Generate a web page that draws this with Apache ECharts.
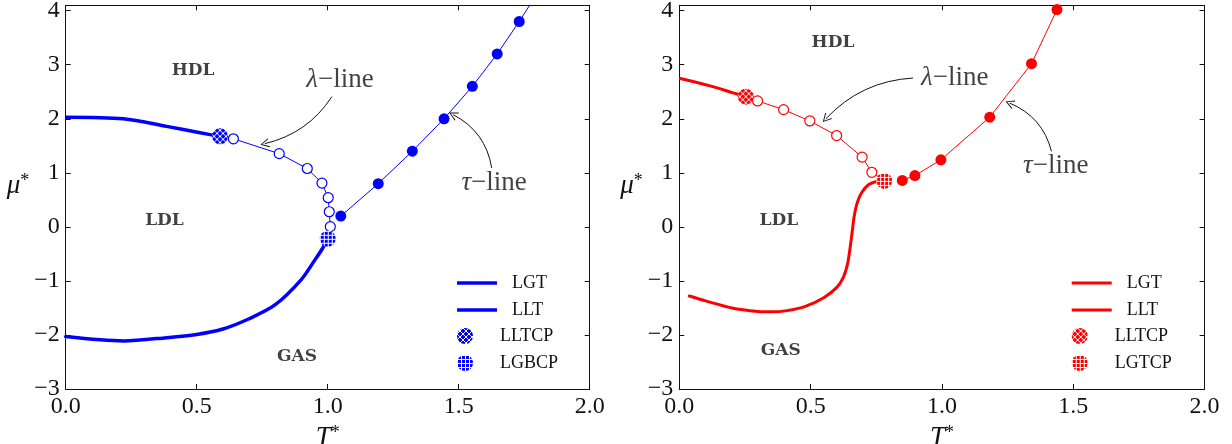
<!DOCTYPE html>
<html><head><meta charset="utf-8">
<script src="https://cdn.jsdelivr.net/npm/echarts@6/dist/echarts.min.js"></script>
<style>html,body{margin:0;padding:0;background:#fff}#c{width:1232px;height:444px}</style>
</head><body><div id="c"></div>
<script>
// ---------- data ----------
const xRange = [0, 2], xStep = 0.5;
const yRange = [-3, 4.1], yStep = 1;

// left panel (blue)
const lgtL = [[0,-2.03],[0.22,-2.11],[0.385,-2.05],[0.5,-1.99],[0.6,-1.89],[0.7,-1.70],[0.8,-1.44],[0.9,-0.97],[0.95,-0.62],[0.98,-0.40],[1.0,-0.22]];
const lltL = [[0,2.03],[0.22,2.0],[0.385,1.86],[0.513,1.74],[0.589,1.675]];
const lambdaL = [[0.64,1.63],[0.815,1.355],[0.922,1.08],[0.978,0.81],[1.002,0.54],[1.006,0.28],[1.01,0.005]];
const tauL = [[1.05,0.2],[1.193,0.8],[1.323,1.40],[1.444,2.0],[1.552,2.6],[1.647,3.2],[1.731,3.80],[1.81,4.4]];
const lltcpL = [[0.589,1.675]];
const lgbcpL = [[1.0,-0.22]];
const regionsL = [['HDL',0.486,2.89],['LDL',0.377,0.12],['GAS',0.883,-2.4]];
const notesL = [['λ',1.047,2.72],['τ',1.635,0.82]];
const arrowsL = [[1.016,2.41,0.760,1.54],[1.626,1.09,1.479,2.076]];
const legendNamesL = ['LGT','LLT','LLTCP','LGBCP'];

// right panel (red)
const lgtR = [[0.038,-1.28],[0.1,-1.37],[0.2,-1.50],[0.3,-1.565],[0.35,-1.572],[0.41,-1.55],[0.48,-1.47],[0.55,-1.31],[0.6,-1.12],[0.625,-0.93],[0.64,-0.70],[0.65,-0.40],[0.658,-0.10],[0.666,0.2],[0.677,0.44],[0.694,0.63],[0.72,0.78],[0.75,0.84],[0.78,0.856]];
const lltR = [[0,2.75],[0.117,2.61],[0.205,2.48],[0.253,2.41]];
const lambdaR = [[0.298,2.33],[0.397,2.17],[0.497,1.96],[0.599,1.69],[0.696,1.29],[0.733,1.01]];
const tauR = [[0.849,0.86],[0.897,0.95],[0.996,1.24],[1.182,2.03],[1.341,3.02],[1.438,4.02]];
const lltcpR = [[0.253,2.41]];
const lgtcpR = [[0.78,0.85]];
const regionsR = [['HDL',0.585,3.41],['LDL',0.379,0.12],['GAS',0.386,-2.29]];
const notesR = [['λ',1.049,2.76],['τ',1.433,1.13]];
const arrowsR = [[0.890,2.754,0.558,2.0],[1.417,1.397,1.258,2.29]];
const legendNamesR = ['LGT ','LLT ','LLTCP ','LGTCP'];

// ---------- styling ----------
const arrowCurveL = [0.2, -0.25];
const arrowCurveR = [-0.2, -0.25];
const SERIF = '"Liberation Serif", "DejaVu Serif", serif';
const INK = '#111111';
const CP_SIZE = 16;

function hatch(color, kind, scale) {
  const s = kind === 'x' ? 6 : 4;
  const c = document.createElement('canvas'); c.width = s; c.height = s;
  const g = c.getContext('2d');
  g.fillStyle = color; g.fillRect(0, 0, s, s);
  g.strokeStyle = '#ffffff'; g.lineWidth = 1;
  g.beginPath();
  if (kind === 'x') { g.moveTo(0,0); g.lineTo(s,s); g.moveTo(s,0); g.lineTo(0,s); }
  else { g.moveTo(0,0.5); g.lineTo(s,0.5); g.moveTo(0.5,0); g.lineTo(0.5,s); }
  g.stroke();
  return { image: c, repeat: 'repeat', scaleX: scale, scaleY: scale };
}

const grids = [
  { left: 65.7, right: 1232 - 589.7, top: 5.3, bottom: 444 - 389, containLabel: false, outerBoundsMode: 'none' },
  { left: 679.3, right: 1232 - 1204.6, top: 5.3, bottom: 444 - 389, containLabel: false, outerBoundsMode: 'none' }
];

const axisLine = { show: true, onZero: false, lineStyle: { color: INK, width: 1 } };
const axisTick = { show: true, inside: true, length: 5, lineStyle: { color: INK, width: 1 } };
const nameRich = {
  i: { fontFamily: SERIF, fontStyle: 'italic', fontSize: 27, color: INK },
  s: { fontFamily: SERIF, fontSize: 18, color: INK, padding: [0, 0, 10, 0] }
};

function xAxes(gi) {
  return [
    { gridIndex: gi, type: 'value', min: xRange[0], max: xRange[1], interval: xStep, position: 'bottom',
      axisLine, axisTick, splitLine: { show: false },
      axisLabel: { show: true, margin: 6, fontFamily: SERIF, fontSize: 24, color: INK,
        formatter: v => v.toFixed(1) },
      name: '{i|T}{s|*}', nameLocation: 'middle', nameGap: 32, nameTextStyle: { rich: nameRich } },
    { gridIndex: gi, type: 'value', min: xRange[0], max: xRange[1], interval: xStep, position: 'top',
      axisLine, axisTick, splitLine: { show: false }, axisLabel: { show: false } }
  ];
}
function yAxes(gi) {
  return [
    { gridIndex: gi, type: 'value', min: yRange[0], max: yRange[1], interval: yStep, position: 'left',
      axisLine, axisTick, splitLine: { show: false },
      axisLabel: { show: true, margin: 6, fontFamily: SERIF, fontSize: 24, color: INK,
        formatter: v => Math.abs(v - Math.round(v)) > 1e-6 ? '' : (v < 0 ? '\u2212' + Math.abs(v) : String(v)) },
      name: '{i|μ}{s|*}', nameLocation: 'middle', nameRotate: 0, nameGap: 32,
      nameTextStyle: { rich: nameRich, padding: [0, 0, 22, 0] } },
    { gridIndex: gi, type: 'value', min: yRange[0], max: yRange[1], interval: yStep, position: 'right',
      axisLine, axisTick, splitLine: { show: false }, axisLabel: { show: false } }
  ];
}

const arrowHead = 'path://M0,0 L6,10 L5,10.8 L0,2.2 L-5,10.8 L-6,10 Z';

function panelSeries(p) {
  const xi = p.gi * 2, yi = p.gi * 2;
  const base = { xAxisIndex: xi, yAxisIndex: yi, animation: false, silent: true };
  const cpA = p.lltcp[0], cpB = p.lgcp[0];
  return [
    Object.assign({}, base, { type: 'line', name: p.names[0], data: p.lgt, showSymbol: false, symbol: 'none',
      smooth: 0.3, z: 3,
      lineStyle: { color: p.color, width: p.thick, join: 'round', cap: 'round' }, itemStyle: { color: p.color } }),
    Object.assign({}, base, { type: 'line', name: p.names[1], data: p.llt, showSymbol: false, symbol: 'none',
      smooth: 0.3, z: 3,
      lineStyle: { color: p.color, width: p.thick, join: 'round' }, itemStyle: { color: p.color } }),
    Object.assign({}, base, { type: 'line', name: 'lambda' + p.gi,
      data: [{ value: cpA, symbol: 'none' }].concat(p.lambda.map(v => ({ value: v })), [{ value: cpB, symbol: 'none' }]),
      symbol: 'circle', symbolSize: 10, showAllSymbol: true, z: 4,
      lineStyle: { color: p.color, width: 1 },
      itemStyle: { color: '#ffffff', borderColor: p.color, borderWidth: 1.2 } }),
    Object.assign({}, base, { type: 'line', name: 'tau' + p.gi, data: p.tau,
      symbol: 'circle', symbolSize: 11, showAllSymbol: true, clip: true, z: 4,
      lineStyle: { color: p.color, width: 1 },
      itemStyle: { color: p.color } }),
    Object.assign({}, base, { type: 'scatter', name: p.names[2], data: p.lltcp, symbol: 'circle', symbolSize: CP_SIZE, z: 6,
      itemStyle: { color: hatch(p.color, 'x', 2 / CP_SIZE), opacity: 1 } }),
    Object.assign({}, base, { type: 'scatter', name: p.names[3], data: p.lgcp, symbol: 'circle', symbolSize: CP_SIZE, z: 6,
      itemStyle: { color: hatch(p.color, '+', 2 / CP_SIZE), opacity: 1 } }),
    Object.assign({}, base, { type: 'scatter', name: 'regions' + p.gi,
      data: p.regions.map(r => ({ name: r[0], value: [r[1], r[2]] })),
      symbolSize: 1, itemStyle: { color: 'rgba(0,0,0,0)' }, z: 7,
      label: { show: true, position: 'inside', formatter: q => q.name,
        fontFamily: '"DejaVu Serif", serif', fontWeight: 'bold', fontSize: 17, color: INK } }),
    Object.assign({}, base, { type: 'scatter', name: 'notes' + p.gi,
      data: p.notes.map(r => ({ name: r[0], value: [r[1], r[2]] })),
      symbolSize: 1, itemStyle: { color: 'rgba(0,0,0,0)' }, z: 7,
      label: { show: true, position: 'inside', formatter: q => '{m|' + q.name + '}{r|\u2212line}',
        rich: { m: { fontFamily: SERIF, fontStyle: 'italic', fontSize: 27, color: INK },
                r: { fontFamily: SERIF, fontSize: 27, color: INK } } } }),
    { type: 'lines', coordinateSystem: 'cartesian2d', xAxisIndex: xi, yAxisIndex: yi, silent: true, animation: false,
      name: 'arrows' + p.gi, z: 7,
      symbol: ['none', arrowHead], symbolSize: [8, 9],
      lineStyle: { color: INK, width: 1, opacity: 1 },
      data: p.arrows.map((a, k) => ({ coords: [[a[0], a[1]], [a[2], a[3]]],
        lineStyle: { curveness: p.curves[k], color: INK, width: 1 } })) }
  ];
}

const panels = [
  { gi: 0, color: '#0000ff', thick: 3.5, names: legendNamesL, lgt: lgtL, llt: lltL, lambda: lambdaL, tau: tauL,
    lltcp: lltcpL, lgcp: lgbcpL, regions: regionsL, notes: notesL, arrows: arrowsL, curves: arrowCurveL },
  { gi: 1, color: '#ff0000', thick: 3, names: legendNamesR, lgt: lgtR, llt: lltR, lambda: lambdaR, tau: tauR,
    lltcp: lltcpR, lgcp: lgtcpR, regions: regionsR, notes: notesR, arrows: arrowsR, curves: arrowCurveR }
];

const legendText = { fontFamily: SERIF, fontSize: 18, color: INK, lineHeight: 20, padding: [0, 0, 0, 10] };
function legends(names, color, left, thick) {
  return [
    { data: names.slice(0, 2), left: left, top: 273, orient: 'vertical', itemWidth: 40, itemHeight: thick,
      itemGap: 7, icon: 'rect', selectedMode: false, textStyle: legendText, formatter: n => n.trim(), padding: 0 },
    { data: [
        { name: names[2], itemStyle: { color: hatch(color, 'x', 1) } },
        { name: names[3], itemStyle: { color: hatch(color, '+', 1) } }
      ], left: left, top: 326, orient: 'vertical', itemWidth: 40, itemHeight: 16,
      itemGap: 7, icon: 'circle', selectedMode: false, textStyle: legendText, formatter: n => n.trim(), padding: 0 }
  ];
}

const chart = echarts.init(document.getElementById('c'), null, { renderer: 'canvas' });
chart.setOption({
  animation: false,
  backgroundColor: '#ffffff',
  grid: grids,
  xAxis: xAxes(0).concat(xAxes(1)),
  yAxis: yAxes(0).concat(yAxes(1)),
  legend: legends(legendNamesL, '#0000ff', 457, 3.5).concat(legends(legendNamesR, '#ff0000', 1071.7, 3)),
  series: panelSeries(panels[0]).concat(panelSeries(panels[1]))
});
</script></body></html>
